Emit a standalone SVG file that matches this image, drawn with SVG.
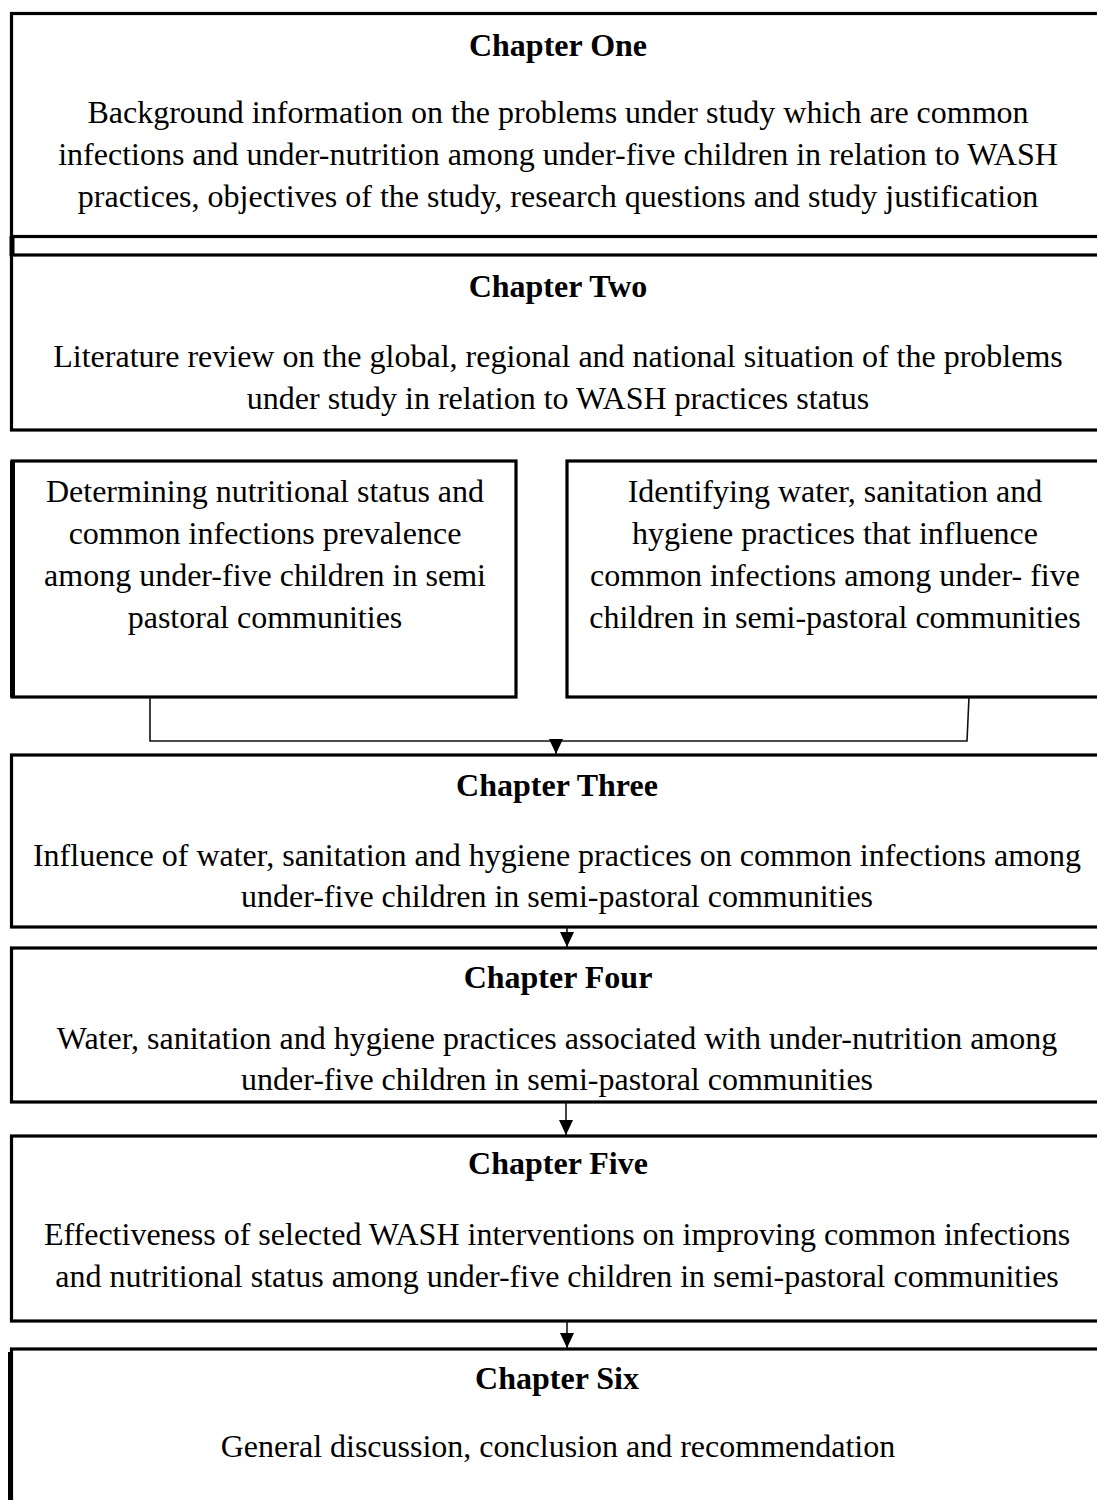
<svg xmlns="http://www.w3.org/2000/svg" width="1097" height="1500" viewBox="0 0 1097 1500">
  <defs>
    <style>
      .box { fill: #ffffff; stroke: #000000; stroke-width: 3.2; }
      .edge { fill: none; stroke: #000000; stroke-width: 5; }
      .link { fill: none; stroke: #111111; stroke-width: 1.6; }
      .head { font-family: "Liberation Serif", "Times New Roman", serif; font-size: 32px; font-weight: bold; fill: #000000; text-anchor: middle; }
      .body { font-family: "Liberation Serif", "Times New Roman", serif; font-size: 32px; fill: #000000; text-anchor: middle; }
    </style>
    <marker id="tri" viewBox="0 0 15 14" refX="15" refY="7" markerWidth="15" markerHeight="14" markerUnits="userSpaceOnUse" orient="auto">
      <path d="M0,0 L15,7 L0,14 Z" fill="#000000"/>
    </marker>
  </defs>

  <!-- Chapter One -->
  <g id="chapter-one">
    <rect class="box" x="11.5" y="13.5" width="1100" height="223"/>
    <text class="head" x="558" y="56">Chapter One</text>
    <text class="body" x="558" y="123">Background information on the problems under study which are common</text>
    <text class="body" x="558" y="165">infections and under-nutrition among under-five children in relation to WASH</text>
    <text class="body" x="558" y="207">practices, objectives of the study, research questions and study justification</text>
  </g>

  <!-- Chapter Two -->
  <g id="chapter-two">
    <rect class="box" x="11.5" y="255" width="1100" height="175"/>
    <text class="head" x="558" y="297">Chapter Two</text>
    <text class="body" x="558" y="367">Literature review on the global, regional and national situation of the problems</text>
    <text class="body" x="558" y="409">under study in relation to WASH practices status</text>
  </g>

  <!-- Objective one -->
  <g id="objective-nutrition">
    <rect class="box" x="12" y="461" width="504" height="236"/>
    <line class="edge" x1="12.5" y1="461" x2="12.5" y2="697"/>
    <text class="body" x="265" y="502">Determining nutritional status and</text>
    <text class="body" x="265" y="544">common infections prevalence</text>
    <text class="body" x="265" y="586">among under-five children in semi</text>
    <text class="body" x="265" y="628">pastoral communities</text>
  </g>

  <!-- Objective two -->
  <g id="objective-wash">
    <rect class="box" x="567" y="461" width="544" height="236"/>
    <text class="body" x="835" y="502">Identifying water, sanitation and</text>
    <text class="body" x="835" y="544">hygiene practices that influence</text>
    <text class="body" x="835" y="586">common infections among under- five</text>
    <text class="body" x="835" y="628">children in semi-pastoral communities</text>
  </g>

  <!-- Chapter Three -->
  <g id="chapter-three">
    <rect class="box" x="11.5" y="755" width="1100" height="172"/>
    <text class="head" x="557" y="796">Chapter Three</text>
    <text class="body" x="557" y="866">Influence of water, sanitation and hygiene practices on common infections among</text>
    <text class="body" x="557" y="907">under-five children in semi-pastoral communities</text>
  </g>

  <!-- Chapter Four -->
  <g id="chapter-four">
    <rect class="box" x="11.5" y="948" width="1100" height="154"/>
    <text class="head" x="558" y="988">Chapter Four</text>
    <text class="body" x="557" y="1049">Water, sanitation and hygiene practices associated with under-nutrition among</text>
    <text class="body" x="557" y="1090">under-five children in semi-pastoral communities</text>
  </g>

  <!-- Chapter Five -->
  <g id="chapter-five">
    <rect class="box" x="11.5" y="1136" width="1100" height="185"/>
    <text class="head" x="558" y="1174">Chapter Five</text>
    <text class="body" x="557" y="1245">Effectiveness of selected WASH interventions on improving common infections</text>
    <text class="body" x="557" y="1287">and nutritional status among under-five children in semi-pastoral communities</text>
  </g>

  <!-- Chapter Six -->
  <g id="chapter-six">
    <rect class="box" x="11.5" y="1349" width="1100" height="200"/>
    <line class="edge" x1="10.5" y1="1352" x2="10.5" y2="1500"/>
    <text class="head" x="557" y="1389">Chapter Six</text>
    <text class="body" x="558" y="1457">General discussion, conclusion and recommendation</text>
  </g>

  <!-- Connectors -->
  <g id="connectors">
    <!-- left edge joining Chapter One to Chapter Two -->
    <line class="edge" x1="12" y1="236" x2="12" y2="256"/>
    <!-- both objectives merge into Chapter Three -->
    <polyline class="link" points="150,697 150,741 967,741 969,697"/>
    <line class="link" x1="556" y1="741" x2="556" y2="754" marker-end="url(#tri)"/>
    <line class="link" x1="567" y1="927" x2="567" y2="947" marker-end="url(#tri)"/>
    <line class="link" x1="566" y1="1102" x2="566" y2="1135" marker-end="url(#tri)"/>
    <line class="link" x1="567" y1="1321" x2="567" y2="1348" marker-end="url(#tri)"/>
  </g>
</svg>
